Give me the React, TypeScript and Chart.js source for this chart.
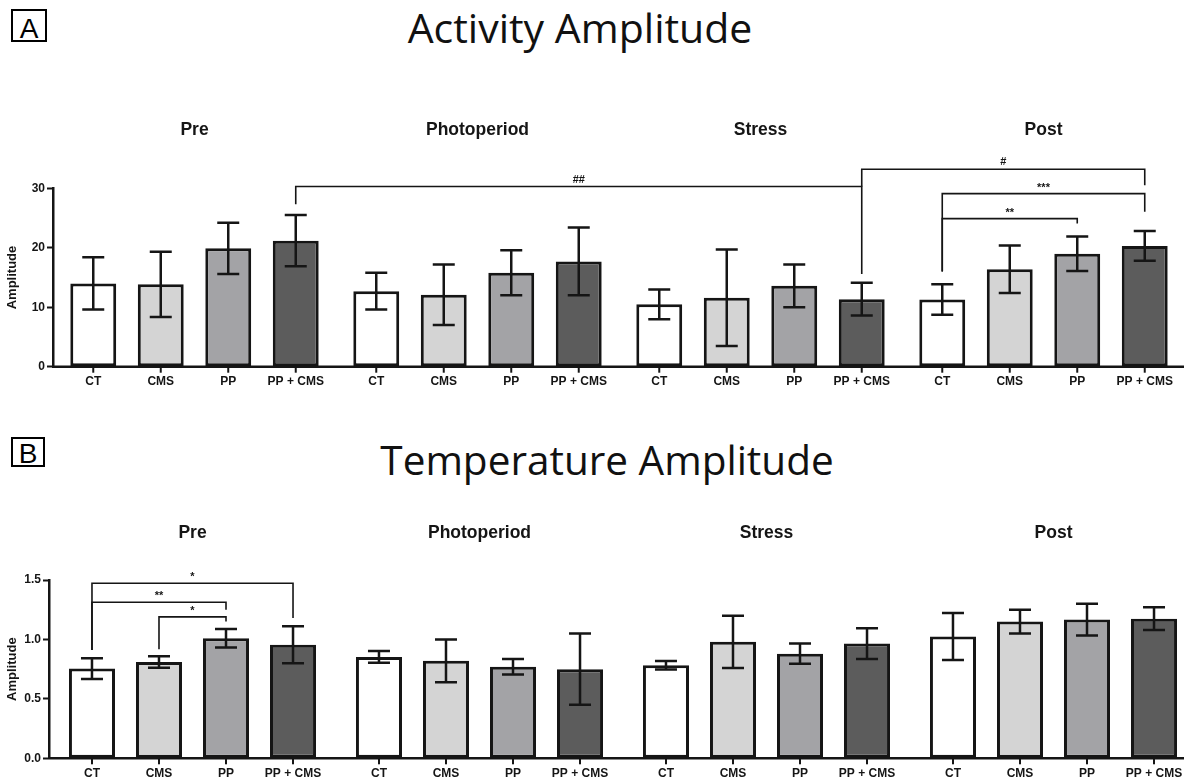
import React, { useEffect, useRef } from "react";
import { Chart, registerables } from "chart.js";

Chart.register(...registerables);

// ---------- data ----------
const groups = ["Pre", "Photoperiod", "Stress", "Post"];
const treatments = ["CT", "CMS", "PP", "PP + CMS"];
const treatmentColors = ["#ffffff", "#d4d4d4", "#a3a3a6", "#5c5c5c"];

// Activity amplitude (mean per group: Pre, Photoperiod, Stress, Post)
const activityCT = [14.0, 12.7, 10.5, 11.3];
const activityCMS = [13.85, 12.1, 11.6, 16.4];
const activityPP = [19.9, 15.8, 13.6, 19.0];
const activityPPCMS = [21.2, 17.7, 11.35, 20.3];
const activityCTErr = [4.4, 3.1, 2.5, 2.55];
const activityCMSErr = [5.5, 5.1, 8.1, 4.0];
const activityPPErr = [4.3, 3.8, 3.6, 2.9];
const activityPPCMSErr = [4.3, 5.7, 2.75, 2.5];
const activityTicks = [0, 10, 20, 30];

// Temperature amplitude
const tempCT = [0.755, 0.853, 0.783, 1.025];
const tempCMS = [0.81, 0.82, 0.98, 1.15];
const tempPP = [1.01, 0.77, 0.88, 1.167];
const tempPPCMS = [0.955, 0.75, 0.965, 1.175];
const tempCTErr = [0.087, 0.05, 0.036, 0.197];
const tempCMSErr = [0.048, 0.18, 0.22, 0.1];
const tempPPErr = [0.078, 0.065, 0.085, 0.133];
const tempPPCMSErr = [0.155, 0.3, 0.13, 0.095];
const tempTicks = [0, 0.5, 1.0, 1.5];

// significance brackets: [group, treatment] endpoints, level and leg ends in data units
type Bracket = {
  from: [number, number];
  to: [number, number];
  level: number;
  leftEnd: number;
  rightEnd: number;
  label: string;
};

const activityBrackets: Bracket[] = [
  { from: [0, 3], to: [2, 3], level: 30.3, leftEnd: 27.3, rightEnd: 15.6, label: "##" },
  { from: [2, 3], to: [3, 3], level: 33.2, leftEnd: 30.3, rightEnd: 30.5, label: "#" },
  { from: [3, 0], to: [3, 3], level: 29.1, leftEnd: 16.0, rightEnd: 26.05, label: "***" },
  { from: [3, 0], to: [3, 2], level: 24.9, leftEnd: 16.0, rightEnd: 24.1, label: "**" },
];

const tempBrackets: Bracket[] = [
  { from: [0, 0], to: [0, 3], level: 1.473, leftEnd: 0.912, rightEnd: 1.18, label: "*" },
  { from: [0, 0], to: [0, 2], level: 1.313, leftEnd: 0.912, rightEnd: 1.25, label: "**" },
  { from: [0, 1], to: [0, 2], level: 1.19, leftEnd: 0.918, rightEnd: 1.15, label: "*" },
];

// ---------- chart helpers ----------
const FONT = "Arial, 'Liberation Sans', sans-serif";
const INK = "#151515";

type PanelCfg = {
  means: number[][];
  errors: number[][];
  ticks: number[];
  decimals: number;
  brackets: Bracket[];
  axisWidth: number;
  padding: { top: number; bottom: number; left: number; right: number };
  catPct: number;
  barPct: number;
  groupTitleY: number;
  capHalf: number;
  labelOffset: number;
};

function makePlugin(cfg: PanelCfg) {
  return {
    id: "panelDecor",
    afterDatasetsDraw(chart: any) {
      const ctx = chart.ctx;
      const y = chart.scales.y;
      ctx.save();
      ctx.strokeStyle = INK;
      ctx.lineWidth = 2.5;
      chart.data.datasets.forEach((ds: any, i: number) => {
        const meta = chart.getDatasetMeta(i);
        meta.data.forEach((el: any, j: number) => {
          const v = ds.data[j];
          const e = ds.errors[j];
          const yt = y.getPixelForValue(v + e);
          const yb = y.getPixelForValue(v - e);
          ctx.beginPath();
          ctx.moveTo(el.x, yt);
          ctx.lineTo(el.x, yb);
          ctx.moveTo(el.x - cfg.capHalf, yt);
          ctx.lineTo(el.x + cfg.capHalf, yt);
          ctx.moveTo(el.x - cfg.capHalf, yb);
          ctx.lineTo(el.x + cfg.capHalf, yb);
          ctx.stroke();
        });
      });
      ctx.restore();
    },
    afterDraw(chart: any) {
      const ctx = chart.ctx;
      const y = chart.scales.y;
      const x = chart.scales.x;
      const area = chart.chartArea;
      const y0 = y.getPixelForValue(0);
      ctx.save();
      // x axis line
      ctx.strokeStyle = INK;
      ctx.lineWidth = 2.5;
      ctx.beginPath();
      ctx.moveTo(area.left - 1, y0);
      ctx.lineTo(area.right, y0);
      ctx.stroke();
      // tick marks + labels per bar
      ctx.fillStyle = INK;
      ctx.font = `bold 12px ${FONT}`;
      ctx.textAlign = "center";
      ctx.textBaseline = "alphabetic";
      chart.data.datasets.forEach((ds: any, i: number) => {
        const meta = chart.getDatasetMeta(i);
        meta.data.forEach((el: any) => {
          ctx.lineWidth = 2;
          ctx.beginPath();
          ctx.moveTo(el.x, y0);
          ctx.lineTo(el.x, y0 + 6);
          ctx.stroke();
          ctx.fillText(ds.label, el.x, y0 + cfg.labelOffset);
        });
      });
      // group titles
      ctx.font = `bold 17.5px ${FONT}`;
      ctx.textBaseline = "middle";
      groups.forEach((g, gi) => {
        ctx.fillText(g, x.getPixelForValue(gi), cfg.groupTitleY);
      });
      // brackets
      ctx.lineWidth = 1.6;
      ctx.font = `bold 11px ${FONT}`;
      ctx.textBaseline = "alphabetic";
      cfg.brackets.forEach((b) => {
        const xl = chart.getDatasetMeta(b.from[1]).data[b.from[0]].x;
        const xr = chart.getDatasetMeta(b.to[1]).data[b.to[0]].x;
        const yl = y.getPixelForValue(b.level);
        ctx.beginPath();
        ctx.moveTo(xl, y.getPixelForValue(b.leftEnd));
        ctx.lineTo(xl, yl);
        ctx.lineTo(xr, yl);
        ctx.lineTo(xr, y.getPixelForValue(b.rightEnd));
        ctx.stroke();
        const isStar = b.label.indexOf("*") >= 0;
        ctx.fillText(b.label, (xl + xr) / 2, yl - (isStar ? 3 : 4));
      });
      ctx.restore();
    },
  };
}

function buildConfig(cfg: PanelCfg): any {
  return {
    type: "bar",
    data: {
      labels: groups,
      datasets: treatments.map((t, i) => ({
        label: t,
        data: cfg.means[i],
        errors: cfg.errors[i],
        backgroundColor: treatmentColors[i],
        borderColor: INK,
        borderWidth: 3,
        borderSkipped: false,
        categoryPercentage: cfg.catPct,
        barPercentage: cfg.barPct,
      })),
    },
    options: {
      responsive: false,
      animation: false,
      devicePixelRatio: 1,
      layout: { padding: cfg.padding },
      plugins: { legend: { display: false }, tooltip: { enabled: false } },
      scales: {
        x: { type: "category", display: false },
        y: {
          type: "linear",
          min: cfg.ticks[0],
          max: cfg.ticks[cfg.ticks.length - 1],
          afterFit(scale: any) {
            scale.width = cfg.axisWidth;
          },
          afterBuildTicks(scale: any) {
            scale.ticks = cfg.ticks.map((v) => ({ value: v }));
          },
          border: { display: true, color: INK, width: 2.5 },
          grid: {
            display: true,
            drawOnChartArea: false,
            drawTicks: true,
            tickLength: 6,
            tickColor: INK,
            tickWidth: 2,
          },
          ticks: {
            color: INK,
            padding: 2,
            font: { family: FONT, size: 12, weight: "bold" },
            callback: (v: any) => Number(v).toFixed(cfg.decimals),
          },
          title: {
            display: true,
            text: "Amplitude",
            color: INK,
            font: { family: FONT, size: 13, weight: "bold" },
            padding: { top: 5, bottom: 0 },
          },
        },
      },
    },
    plugins: [makePlugin(cfg)],
  };
}

const activityCfg: PanelCfg = {
  means: [activityCT, activityCMS, activityPP, activityPPCMS],
  errors: [activityCTErr, activityCMSErr, activityPPErr, activityPPCMSErr],
  ticks: activityTicks,
  decimals: 0,
  brackets: activityBrackets,
  axisWidth: 53,
  padding: { top: 88.3, bottom: 33.3, left: 0, right: 15 },
  catPct: 0.954,
  barPct: 0.68,
  groupTitleY: 30,
  capHalf: 11,
  labelOffset: 18,
};

const tempCfg: PanelCfg = {
  means: [tempCT, tempCMS, tempPP, tempPPCMS],
  errors: [tempCTErr, tempCMSErr, tempPPErr, tempPPCMSErr],
  ticks: tempTicks,
  decimals: 1,
  brackets: tempBrackets,
  axisWidth: 49,
  padding: { top: 90, bottom: 21.7, left: 0, right: 3 },
  catPct: 0.934,
  barPct: 0.687,
  groupTitleY: 43,
  capHalf: 11,
  labelOffset: 19,
};

function Panel({ cfg, top, height }: { cfg: PanelCfg; top: number; height: number }) {
  const ref = useRef<HTMLCanvasElement | null>(null);
  useEffect(() => {
    if (!ref.current) return;
    const chart = new Chart(ref.current, buildConfig(cfg));
    return () => chart.destroy();
  }, [cfg]);
  return (
    <canvas
      ref={ref}
      width={1200}
      height={height}
      style={{ position: "absolute", left: 0, top, width: 1200, height }}
    />
  );
}

const boxStyle = (left: number, top: number, w: number, h: number, lh: number): React.CSSProperties => ({
  position: "absolute",
  left,
  top,
  width: w,
  height: h,
  boxSizing: "border-box",
  border: "2px solid #000",
  fontFamily: FONT,
  fontSize: 28,
  lineHeight: `${lh}px`,
  textAlign: "center",
  color: "#000",
  overflow: "visible",
});

const titleStyle = (center: number, top: number, size: number): React.CSSProperties => ({
  position: "absolute",
  left: center,
  top,
  transform: "translateX(-50%)",
  whiteSpace: "nowrap",
  fontFamily: "'Open Sans', sans-serif",
  fontSize: size,
  lineHeight: 1,
  color: "#111",
});

export default function App() {
  return (
    <div
      style={{
        position: "absolute",
        left: 0,
        top: 0,
        width: 1184,
        height: 780,
        overflow: "hidden",
        background: "#fff",
      }}
    >
      <div style={boxStyle(11, 9, 36, 33, 35)}>A</div>
      <div style={titleStyle(580, 6.6, 41)}>Activity Amplitude</div>
      <Panel cfg={activityCfg} top={100} height={300} />
      <div style={boxStyle(11, 437, 34, 30, 29)}>B</div>
      <div style={titleStyle(607, 440, 40.5)}>Temperature Amplitude</div>
      <Panel cfg={tempCfg} top={490} height={290} />
    </div>
  );
}
